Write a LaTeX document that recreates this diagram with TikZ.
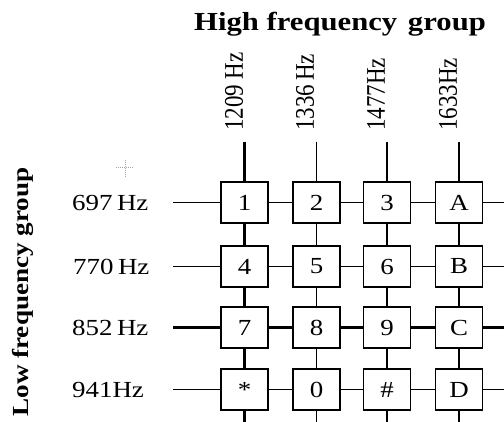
\documentclass[tikz,border=0pt]{standalone}
\usepackage{fontspec}
\setmainfont{Liberation Serif}
\usepackage{graphicx}
% text is set a little wider than it is tall
\newcommand{\wide}[1]{\scalebox{1.17}[1]{#1}}
\newcommand{\tall}[1]{\scalebox{1}[1.17]{#1}}
\begin{document}
\begin{tikzpicture}[x=1pt,y=-1pt,
  keybox/.style={draw, line width=1.2pt, minimum width=47pt, minimum height=41pt,
    inner sep=0pt, font=\fontsize{23}{23}\selectfont},
  lbl/.style={inner sep=0pt, font=\fontsize{23}{23}\selectfont},
  thinline/.style={line width=1.3pt},
  thickline/.style={line width=2.4pt}]
\useasboundingbox (0,0) rectangle (504,422);

% titles
\node[inner sep=0pt, font=\fontsize{26}{26}\selectfont\bfseries] (hi) at (340,24)
  {\scalebox{1.18}[1]{High frequency\hspace{0.35em}group}};
\node[inner sep=0pt, rotate=90, font=\fontsize{23}{23}\selectfont\bfseries] (lo) at (23,292)
  {\scalebox{1.18}[1]{Low frequency group}};

% column frequencies
\node[lbl, rotate=90, anchor=west] (f1) at (234,131) {\tall{1209 Hz}};
\node[lbl, rotate=90, anchor=west] (f2) at (305,131) {\tall{1336\,Hz}};
\node[lbl, rotate=90, anchor=west] (f3) at (376,131) {\tall{1477Hz}};
\node[lbl, rotate=90, anchor=west] (f4) at (448,131) {\tall{1633Hz}};

% row frequencies
\node[lbl, anchor=west] (g1) at (72,202.5) {\wide{697\,Hz}};
\node[lbl, anchor=west] (g2) at (73,266.5) {\wide{770\,Hz}};
\node[lbl, anchor=west] (g3) at (72,327.5) {\wide{852\,Hz}};
\node[lbl, anchor=west] (g4) at (72,389.5) {\wide{941Hz}};

% keypad
\foreach \r/\y in {1/202.5,2/266.5,3/327.5,4/389.5}
  \foreach \c/\x in {1/244.5,2/316.5,3/387,4/459}
    \coordinate (p\r\c) at (\x,\y);
\node[keybox] (k11) at (p11) {\wide{1}};
\node[keybox] (k12) at (p12) {\wide{2}};
\node[keybox] (k13) at (p13) {\wide{3}};
\node[keybox] (k14) at (p14) {\wide{A}};
\node[keybox] (k21) at (p21) {\wide{4}};
\node[keybox] (k22) at (p22) {\wide{5}};
\node[keybox] (k23) at (p23) {\wide{6}};
\node[keybox] (k24) at (p24) {\wide{B}};
\node[keybox] (k31) at (p31) {\wide{7}};
\node[keybox] (k32) at (p32) {\wide{8}};
\node[keybox] (k33) at (p33) {\wide{9}};
\node[keybox] (k34) at (p34) {\wide{C}};
\node[keybox] (k41) at (p41) {\raisebox{-0.22em}{\wide{*}}};
\node[keybox] (k42) at (p42) {\wide{0}};
\node[keybox] (k43) at (p43) {\wide{\#}};
\node[keybox] (k44) at (p44) {\wide{D}};

% column wires
\foreach \c/\x/\w in {1/244.5/thickline,2/316.5/thinline,3/387/thickline,4/459/thinline}{
  \coordinate (ct\c) at (\x,142);
  \coordinate (cb\c) at (\x,422);
  \draw[\w] (ct\c) -- (k1\c.north);
  \draw[\w] (k1\c.south) -- (k2\c.north);
  \draw[\w] (k2\c.south) -- (k3\c.north);
  \draw[\w] (k3\c.south) -- (k4\c.north);
  \draw[\w] (k4\c.south) -- (cb\c);
}

% row wires
\foreach \r/\y/\w in {1/202.5/thinline,2/266.5/thinline,3/327.5/thickline,4/389.5/thinline}{
  \coordinate (rs\r) at (173,\y);
  \coordinate (re\r) at (504,\y);
  \draw[\w] (rs\r) -- (k\r1.west);
  \draw[\w] (k\r1.east) -- (k\r2.west);
  \draw[\w] (k\r2.east) -- (k\r3.west);
  \draw[\w] (k\r3.east) -- (k\r4.west);
  \draw[\w] (k\r4.east) -- (re\r);
}

% small dotted cross mark
\coordinate (xm) at (125,168);
\draw[gray!70, densely dotted, line width=1pt] ([xshift=-9pt]xm) -- ([xshift=9pt]xm);
\draw[gray!70, densely dotted, line width=1pt] ([yshift=-9pt]xm) -- ([yshift=9pt]xm);
\end{tikzpicture}
\end{document}
